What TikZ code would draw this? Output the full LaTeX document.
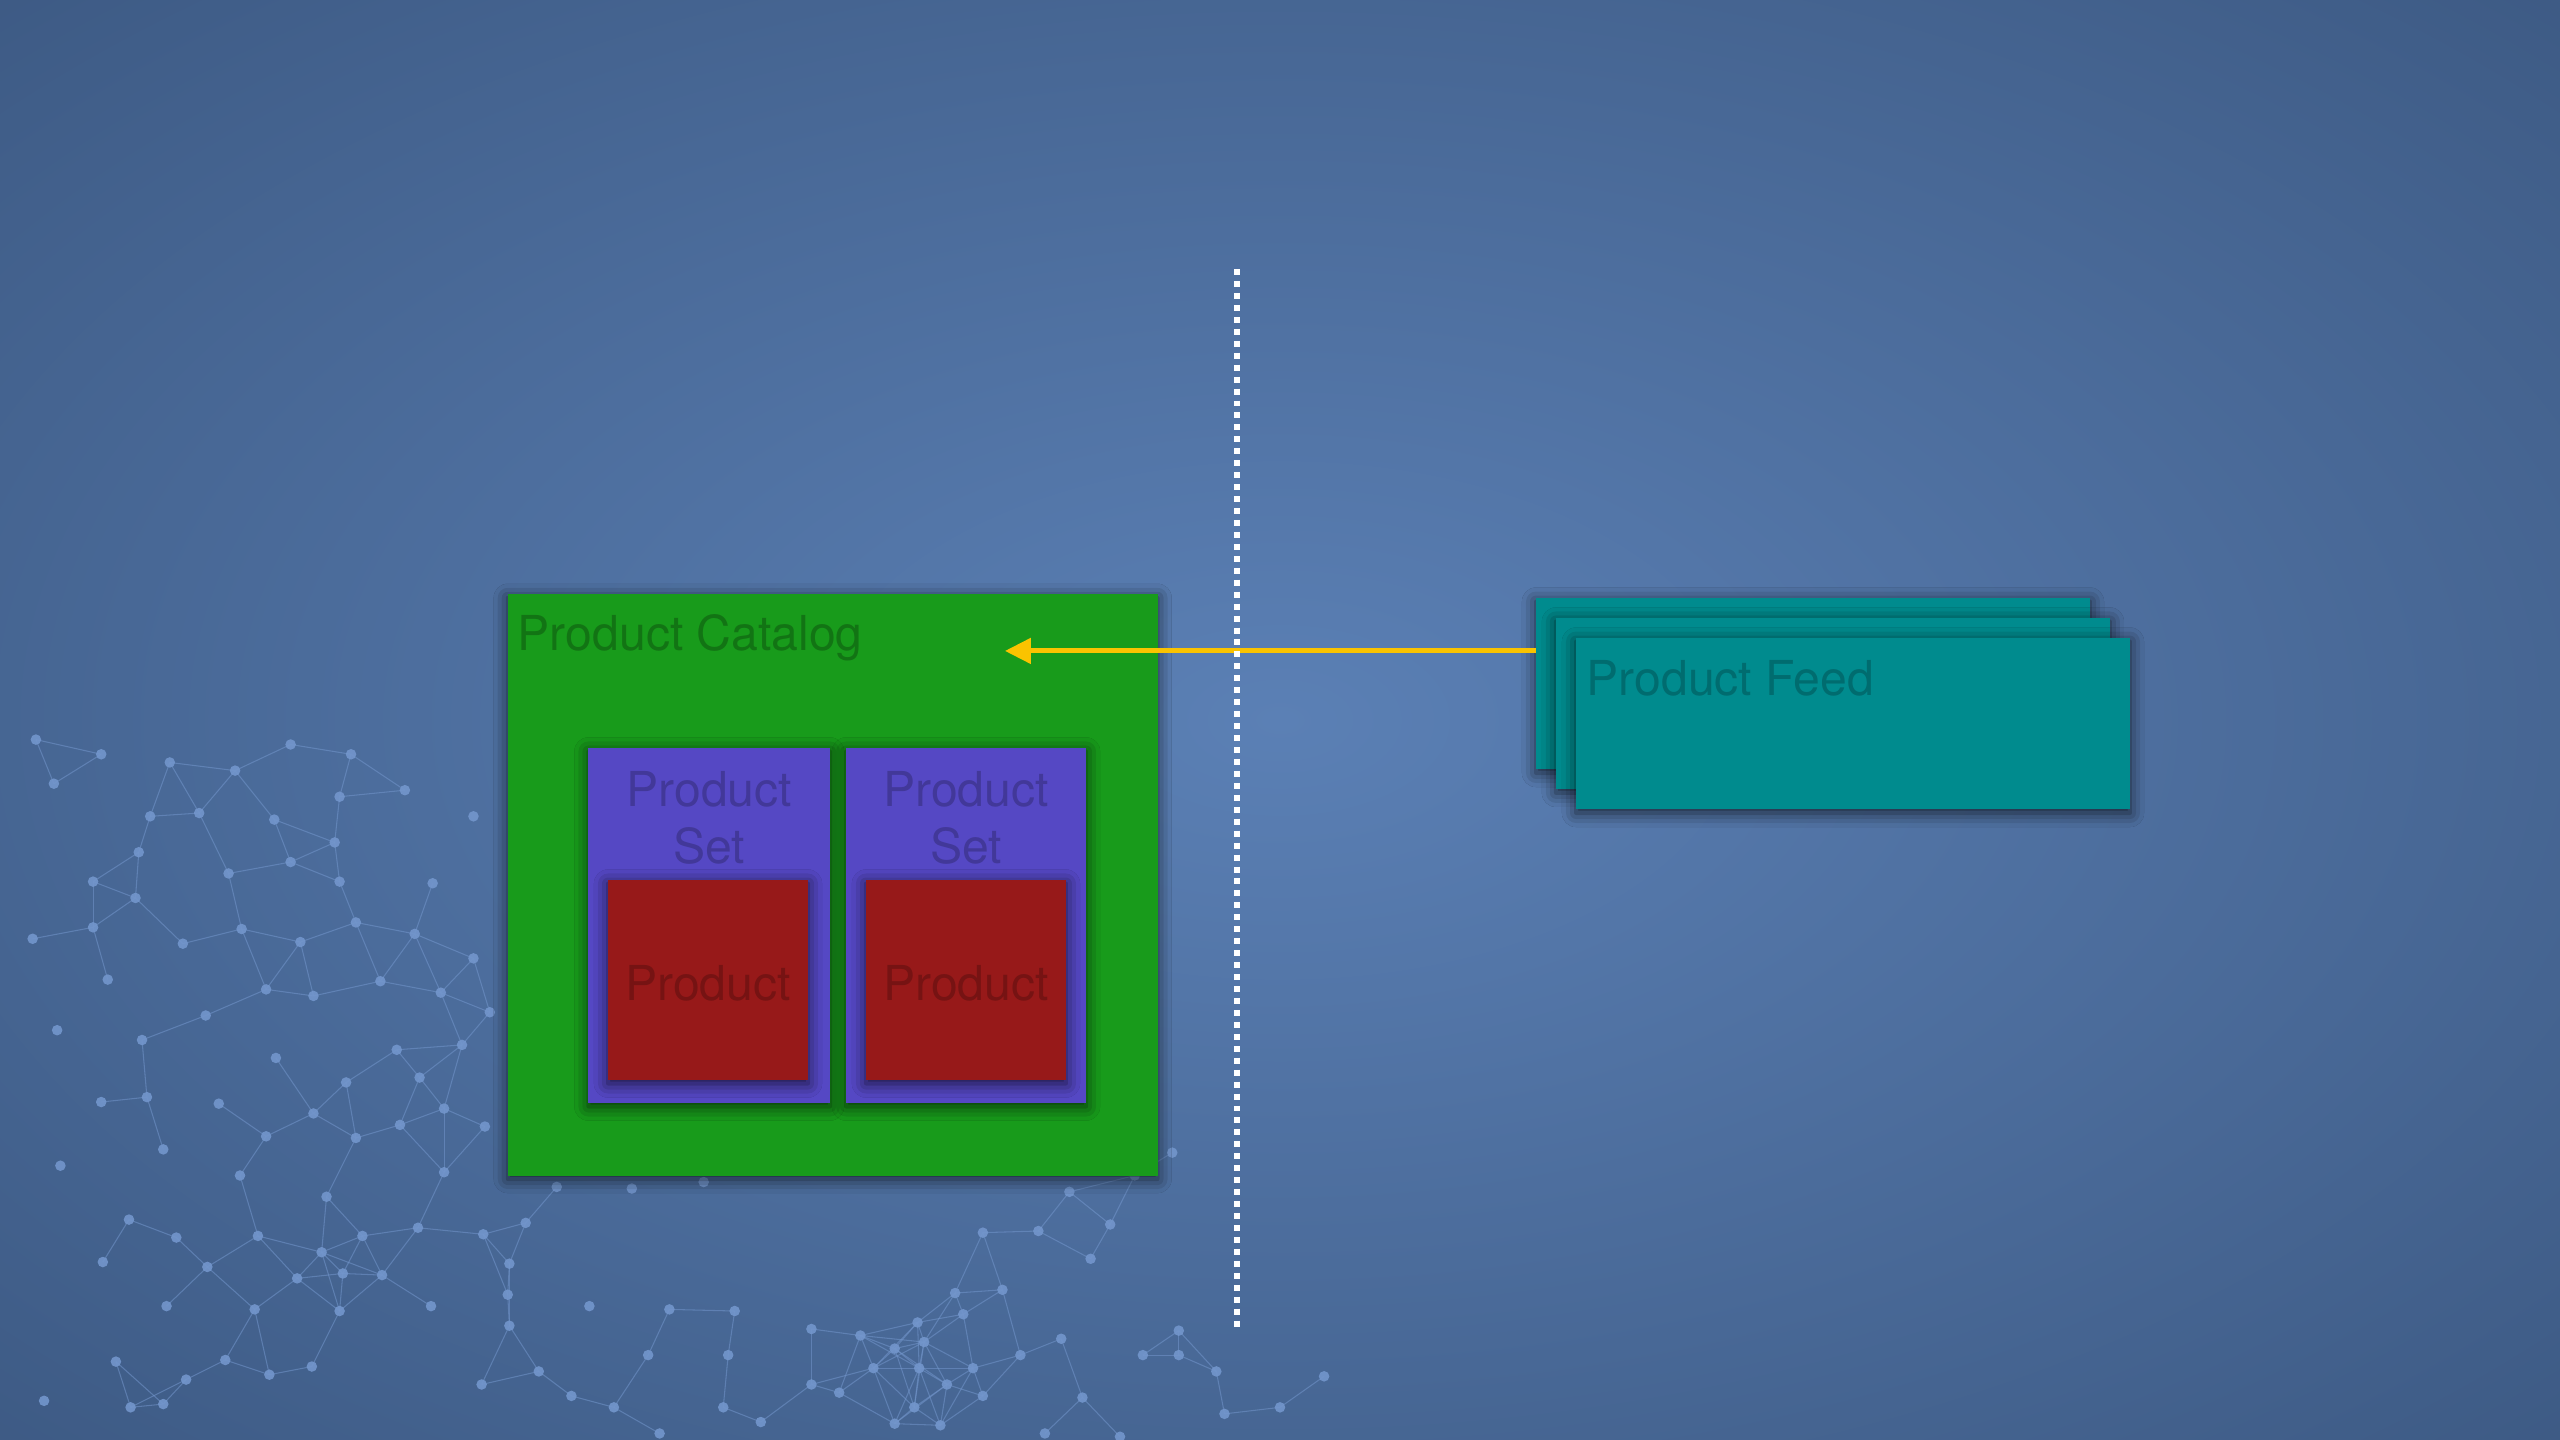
\documentclass[tikz,border=0pt]{standalone}
\usepackage{fontspec}
\setmainfont{TeX Gyre Heros}
\usetikzlibrary{arrows.meta}
\usetikzlibrary{shadows.blur}
\definecolor{bgin}{HTML}{5B80B5}
\definecolor{bgout}{HTML}{3D5A84}
\definecolor{catalog}{HTML}{189B1B}
\definecolor{pset}{HTML}{5548C4}
\definecolor{prod}{HTML}{971919}
\definecolor{feed}{HTML}{008B8E}
\definecolor{flow}{HTML}{FAC300}
\definecolor{netc}{HTML}{7396CC}
\pgfdeclareradialshading{bgglow}{\pgfpointorigin}{color(0bp)=(bgin); color(36bp)=(bgout); color(50bp)=(bgout)}
\newdimen\pxu \pxu=0.016327cm
\newcommand{\boxfont}{\fontsize{13.7}{16.2}\selectfont}
% plexus dots in the lower left corner
\def\netdots{22/453,62/462,104/467,144/472,178/456,215/462,248/484,290/500,
33/480,92/500,122/498,168/502,208/488,85/522,140/535,178/528,205/516,
57/540,83/550,20/575,57/568,112/578,148/569,184/577,208/540,218/565,265/541,254/572,290/587,
66/600,126/622,163/606,192/610,233/601,270/608,35/631,87/637,169/648,212/663,243/643,257/660,283/640,300/620,
62/675,90/672,134/676,192/682,218/697,245/689,272/679,297/690,
37/714,100/704,163/696,200/733,272/718,341/727,387/728,431/724,718/706,
79/747,108/758,147/720,158/757,127/776,63/773,197/767,222/757,256/752,296/756,322/749,
182/783,210/780,234/781,312/774,102/800,156/802,208/803,264/800,311/793,361/800,312/812,397/830,410/802,450/803,446/830,
71/834,114/845,138/833,165/842,191/837,27/858,80/862,100/860,295/848,330/840,350/855,376/862,404/878,443/862,466/871,
497/814,527/818,562/810,602/755,636/754,655/730,695/720,680/750,668/771,614/790,585/792,548/826,566/822,590/805,
497/848,514/853,535/838,563/838,580/848,596/838,602/855,625/830,650/820,663/856,700/830,722/830,722/815,745/840,
784/862,811/843,750/866,560/862,548/872,576/873,686/880,640/878}

\begin{document}
\begin{tikzpicture}[x=0.016327cm,y=-0.016327cm,
	box/.style={anchor=north west,inner sep=0pt,outer sep=0pt,
		blur shadow={shadow xshift=0pt,shadow yshift=-1pt,shadow blur radius=4pt,shadow opacity=70}},
	title/.style={anchor=base west,inner sep=0pt,font=\boxfont},
	flowarrow/.style={draw=flow,line width=1.42pt,-{Triangle[length=7.4pt,width=7.1pt]}},
	divider/.style={draw=white,line width=1.7pt,dash pattern=on 1.7pt off 1.7pt},
	netline/.style={draw=netc,opacity=.55,line width=.3pt},
	netdot/.style={fill=netc,opacity=.9}]
	\useasboundingbox (0,0) rectangle (1568,882);
	\shade[shading=bgglow] (0,0) rectangle (1568,882);

	\foreach \ax/\ay [count=\i] in \netdots {
		\foreach \bx/\by [count=\j] in \netdots {
			\ifnum\j>\i
				\pgfmathtruncatemacro\near{veclen(\bx-\ax,\by-\ay)<42}
				\ifnum\near=1 \draw[netline] (\ax,\ay) -- (\bx,\by); \fi
			\fi
		}
	}
	\foreach \ax/\ay in \netdots
		\fill[netdot] (\ax,\ay) circle (1.5pt);

	\node[box,fill=catalog,minimum width=398\pxu,minimum height=356\pxu] (catalog) at (311,364) {};
	\node[title,text=catalog!75!black] (catalogtext) at ([shift={(5.7,34.3)}]catalog.north west) {Product Catalog};

	\node[box,fill=pset,minimum width=148\pxu,minimum height=217.5\pxu] (setA) at (360.4,458.1) {};
	\node[box,fill=pset,minimum width=147\pxu,minimum height=217.5\pxu] (setB) at (518.2,458.1) {};
	\node[box,fill=prod,minimum width=122.5\pxu,minimum height=122.5\pxu] (prodA) at (372.4,539) {};
	\node[box,fill=prod,minimum width=122.5\pxu,minimum height=122.5\pxu] (prodB) at (530.4,539) {};

	\node[anchor=north,inner sep=0pt,align=center,font=\boxfont,text=pset!78!black] (setAtext) at ([yshift=-13.7\pxu]setA.north) {Product\\Set};
	\node[anchor=north,inner sep=0pt,align=center,font=\boxfont,text=pset!78!black] (setBtext) at ([yshift=-13.7\pxu]setB.north) {Product\\Set};
	\node[anchor=base,inner sep=0pt,font=\boxfont,text=prod!78!black] (prodAtext) at (prodA.center |- 0,612.5) {Product};
	\node[anchor=base,inner sep=0pt,font=\boxfont,text=prod!78!black] (prodBtext) at (prodB.center |- 0,612.5) {Product};

	\node[box,fill=feed,minimum width=339.3\pxu,minimum height=105\pxu] (feed1) at (940.8,366.3) {};
	\node[box,fill=feed,minimum width=339.3\pxu,minimum height=105\pxu] (feed2) at (953,378.5) {};
	\node[box,fill=feed,minimum width=339.3\pxu,minimum height=105\pxu] (feed3) at (965.3,390.8) {};
	\node[title,text=feed!78!black] (feedtext) at ([shift={(6,34.9)}]feed3.north west) {Product Feed};

	\coordinate (drop) at (615.5,398.7);
	\draw[flowarrow] (feed1.west |- drop) -- (drop);

	\coordinate (divtop) at (757.6,164.8);
	\coordinate (divbot) at (757.6,815.2);
	\draw[divider] (divtop) -- (divbot);
\end{tikzpicture}
\end{document}
